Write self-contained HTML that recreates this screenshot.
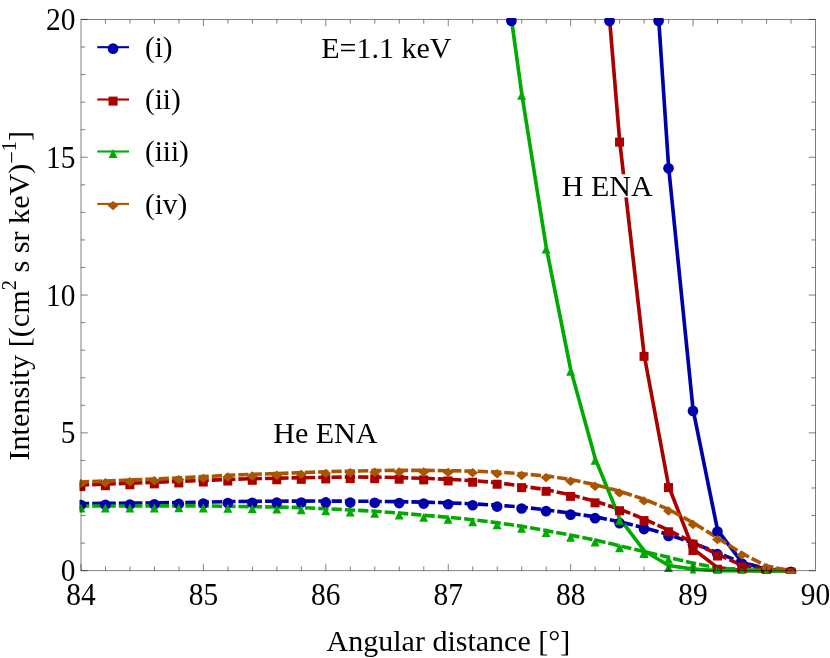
<!DOCTYPE html>
<html><head><meta charset="utf-8"><title>ENA intensity</title>
<style>
html,body{margin:0;padding:0;background:#fff;}
body{width:830px;height:658px;overflow:hidden;}
svg{display:block;will-change:transform;}
text{font-family:"Liberation Serif",serif;fill:#000;}
</style></head><body>
<svg width="830" height="658" viewBox="0 0 830 658">
<rect x="0" y="0" width="830" height="658" fill="#ffffff"/>
<defs><clipPath id="plot"><rect x="79.50" y="18.0" width="737.50" height="555.40"/></clipPath></defs>

<g clip-path="url(#plot)">
<polyline points="658.70,19.47 668.60,166.94 693.08,409.57 717.57,530.19 742.05,562.41 766.53,569.30 791.02,570.65" fill="none" stroke="#0000AA" stroke-width="3.65" stroke-linejoin="round"/>
<polyline points="81.00,503.63 105.48,503.38 129.97,503.13 154.45,502.85 178.93,502.55 203.42,502.17 227.90,501.64 252.38,501.34 276.87,501.20 301.35,501.09 325.83,501.06 350.32,501.15 374.80,501.37 399.28,501.64 423.77,502.14 448.25,502.85 472.73,503.85 497.22,505.17 521.70,507.10 546.18,509.80 570.67,513.24 595.15,516.80 619.63,521.71 644.12,527.69 668.60,534.60 693.08,543.15 717.57,552.76 742.05,562.69 766.53,568.75 791.02,570.65" fill="none" stroke="#0000AA" stroke-width="3.6" stroke-linejoin="round" stroke-dasharray="10.3 3" stroke-dashoffset="2.1"/>
<polyline points="609.61,19.47 619.63,140.51 644.12,354.75 668.60,485.99 693.08,548.91 717.57,567.65 742.05,570.65 766.53,570.65 791.02,570.65" fill="none" stroke="#AA0000" stroke-width="3.65" stroke-linejoin="round"/>
<polyline points="81.00,485.02 105.48,484.11 129.97,483.18 154.45,482.27 178.93,481.36 203.42,480.42 227.90,479.43 252.38,478.71 276.87,478.16 301.35,477.75 325.83,477.34 350.32,477.03 374.80,477.11 399.28,477.64 423.77,478.27 448.25,479.35 472.73,480.61 497.22,482.65 521.70,486.07 546.18,489.71 570.67,494.81 595.15,501.23 619.63,509.14 644.12,518.98 668.60,530.14 693.08,542.59 717.57,554.42 742.05,565.30 766.53,569.58 791.02,570.65" fill="none" stroke="#AA0000" stroke-width="3.6" stroke-linejoin="round" stroke-dasharray="10.3 3" stroke-dashoffset="2.1"/>
<polyline points="511.50,19.47 521.70,93.14 546.18,247.08 570.67,369.36 595.15,458.32 619.63,518.34 644.12,550.70 668.60,565.52 693.08,569.16 717.57,570.65 742.05,570.65 766.53,570.65 791.02,570.65" fill="none" stroke="#00AA00" stroke-width="3.65" stroke-linejoin="round"/>
<polyline points="81.00,505.97 105.48,505.97 129.97,505.94 154.45,505.89 178.93,505.83 203.42,505.89 227.90,506.27 252.38,506.66 276.87,507.04 301.35,507.65 325.83,508.75 350.32,509.97 374.80,511.23 399.28,513.05 423.77,515.28 448.25,517.21 472.73,519.67 497.22,522.70 521.70,526.34 546.18,530.61 570.67,535.15 595.15,539.98 619.63,545.74 644.12,551.58 668.60,557.34 693.08,563.13 717.57,567.92 742.05,569.58 766.53,570.65 791.02,570.65" fill="none" stroke="#00AA00" stroke-width="3.6" stroke-linejoin="round" stroke-dasharray="10.3 3" stroke-dashoffset="2.1"/>
<polyline points="81.00,481.99 105.48,480.97 129.97,479.98 154.45,478.96 178.93,477.89 203.42,476.67 227.90,475.30 252.38,474.28 276.87,473.59 301.35,472.65 325.83,471.71 350.32,471.11 374.80,470.58 399.28,470.34 423.77,470.34 448.25,470.69 472.73,471.11 497.22,472.02 521.70,473.81 546.18,475.90 570.67,479.51 595.15,484.61 619.63,491.22 644.12,499.22 668.60,509.30 693.08,522.75 717.57,537.91 742.05,553.40 766.53,566.10 791.02,570.65" fill="none" stroke="#AA5500" stroke-width="3.6" stroke-linejoin="round" stroke-dasharray="10.3 3" stroke-dashoffset="2.1"/>
<circle cx="668.50" cy="168.34" r="5.35" fill="#0000AA"/>
<circle cx="692.98" cy="410.97" r="5.35" fill="#0000AA"/>
<circle cx="717.47" cy="531.59" r="5.35" fill="#0000AA"/>
<circle cx="741.95" cy="563.81" r="5.35" fill="#0000AA"/>
<circle cx="766.43" cy="570.70" r="5.35" fill="#0000AA"/>
<circle cx="790.92" cy="572.05" r="5.35" fill="#0000AA"/>
<circle cx="80.90" cy="505.03" r="5.35" fill="#0000AA"/>
<circle cx="105.38" cy="504.78" r="5.35" fill="#0000AA"/>
<circle cx="129.87" cy="504.53" r="5.35" fill="#0000AA"/>
<circle cx="154.35" cy="504.25" r="5.35" fill="#0000AA"/>
<circle cx="178.83" cy="503.95" r="5.35" fill="#0000AA"/>
<circle cx="203.32" cy="503.57" r="5.35" fill="#0000AA"/>
<circle cx="227.80" cy="503.04" r="5.35" fill="#0000AA"/>
<circle cx="252.28" cy="502.74" r="5.35" fill="#0000AA"/>
<circle cx="276.77" cy="502.60" r="5.35" fill="#0000AA"/>
<circle cx="301.25" cy="502.49" r="5.35" fill="#0000AA"/>
<circle cx="325.73" cy="502.46" r="5.35" fill="#0000AA"/>
<circle cx="350.22" cy="502.55" r="5.35" fill="#0000AA"/>
<circle cx="374.70" cy="502.77" r="5.35" fill="#0000AA"/>
<circle cx="399.18" cy="503.04" r="5.35" fill="#0000AA"/>
<circle cx="423.67" cy="503.54" r="5.35" fill="#0000AA"/>
<circle cx="448.15" cy="504.25" r="5.35" fill="#0000AA"/>
<circle cx="472.63" cy="505.25" r="5.35" fill="#0000AA"/>
<circle cx="497.12" cy="506.57" r="5.35" fill="#0000AA"/>
<circle cx="521.60" cy="508.50" r="5.35" fill="#0000AA"/>
<circle cx="546.08" cy="511.20" r="5.35" fill="#0000AA"/>
<circle cx="570.57" cy="514.64" r="5.35" fill="#0000AA"/>
<circle cx="595.05" cy="518.20" r="5.35" fill="#0000AA"/>
<circle cx="619.53" cy="523.11" r="5.35" fill="#0000AA"/>
<circle cx="644.02" cy="529.09" r="5.35" fill="#0000AA"/>
<circle cx="668.50" cy="536.00" r="5.35" fill="#0000AA"/>
<circle cx="692.98" cy="544.55" r="5.35" fill="#0000AA"/>
<circle cx="717.47" cy="554.16" r="5.35" fill="#0000AA"/>
<circle cx="741.95" cy="564.09" r="5.35" fill="#0000AA"/>
<circle cx="766.43" cy="570.15" r="5.35" fill="#0000AA"/>
<circle cx="790.92" cy="572.05" r="5.35" fill="#0000AA"/>
<rect x="615.03" y="137.61" width="9.00" height="9.00" fill="#AA0000"/>
<rect x="639.52" y="351.85" width="9.00" height="9.00" fill="#AA0000"/>
<rect x="664.00" y="483.09" width="9.00" height="9.00" fill="#AA0000"/>
<rect x="688.48" y="546.01" width="9.00" height="9.00" fill="#AA0000"/>
<rect x="712.97" y="564.75" width="9.00" height="9.00" fill="#AA0000"/>
<rect x="737.45" y="567.75" width="9.00" height="9.00" fill="#AA0000"/>
<rect x="761.93" y="567.75" width="9.00" height="9.00" fill="#AA0000"/>
<rect x="786.42" y="567.75" width="9.00" height="9.00" fill="#AA0000"/>
<rect x="76.40" y="482.12" width="9.00" height="9.00" fill="#AA0000"/>
<rect x="100.88" y="481.21" width="9.00" height="9.00" fill="#AA0000"/>
<rect x="125.37" y="480.28" width="9.00" height="9.00" fill="#AA0000"/>
<rect x="149.85" y="479.37" width="9.00" height="9.00" fill="#AA0000"/>
<rect x="174.33" y="478.46" width="9.00" height="9.00" fill="#AA0000"/>
<rect x="198.82" y="477.52" width="9.00" height="9.00" fill="#AA0000"/>
<rect x="223.30" y="476.53" width="9.00" height="9.00" fill="#AA0000"/>
<rect x="247.78" y="475.81" width="9.00" height="9.00" fill="#AA0000"/>
<rect x="272.27" y="475.26" width="9.00" height="9.00" fill="#AA0000"/>
<rect x="296.75" y="474.85" width="9.00" height="9.00" fill="#AA0000"/>
<rect x="321.23" y="474.44" width="9.00" height="9.00" fill="#AA0000"/>
<rect x="345.72" y="474.13" width="9.00" height="9.00" fill="#AA0000"/>
<rect x="370.20" y="474.21" width="9.00" height="9.00" fill="#AA0000"/>
<rect x="394.68" y="474.74" width="9.00" height="9.00" fill="#AA0000"/>
<rect x="419.17" y="475.37" width="9.00" height="9.00" fill="#AA0000"/>
<rect x="443.65" y="476.45" width="9.00" height="9.00" fill="#AA0000"/>
<rect x="468.13" y="477.71" width="9.00" height="9.00" fill="#AA0000"/>
<rect x="492.62" y="479.75" width="9.00" height="9.00" fill="#AA0000"/>
<rect x="517.10" y="483.17" width="9.00" height="9.00" fill="#AA0000"/>
<rect x="541.58" y="486.81" width="9.00" height="9.00" fill="#AA0000"/>
<rect x="566.07" y="491.91" width="9.00" height="9.00" fill="#AA0000"/>
<rect x="590.55" y="498.33" width="9.00" height="9.00" fill="#AA0000"/>
<rect x="615.03" y="506.24" width="9.00" height="9.00" fill="#AA0000"/>
<rect x="639.52" y="516.08" width="9.00" height="9.00" fill="#AA0000"/>
<rect x="664.00" y="527.24" width="9.00" height="9.00" fill="#AA0000"/>
<rect x="688.48" y="539.69" width="9.00" height="9.00" fill="#AA0000"/>
<rect x="712.97" y="551.52" width="9.00" height="9.00" fill="#AA0000"/>
<rect x="737.45" y="562.40" width="9.00" height="9.00" fill="#AA0000"/>
<rect x="761.93" y="566.68" width="9.00" height="9.00" fill="#AA0000"/>
<rect x="786.42" y="567.75" width="9.00" height="9.00" fill="#AA0000"/>
<path d="M521.60,90.74 L526.05,99.64 L517.15,99.64 Z" fill="#00AA00"/>
<path d="M546.08,244.68 L550.53,253.58 L541.63,253.58 Z" fill="#00AA00"/>
<path d="M570.57,366.96 L575.02,375.86 L566.12,375.86 Z" fill="#00AA00"/>
<path d="M595.05,455.92 L599.50,464.82 L590.60,464.82 Z" fill="#00AA00"/>
<path d="M619.53,515.94 L623.98,524.84 L615.08,524.84 Z" fill="#00AA00"/>
<path d="M644.02,548.30 L648.47,557.20 L639.57,557.20 Z" fill="#00AA00"/>
<path d="M668.50,563.12 L672.95,572.02 L664.05,572.02 Z" fill="#00AA00"/>
<path d="M692.98,566.76 L697.43,575.66 L688.53,575.66 Z" fill="#00AA00"/>
<path d="M717.47,568.25 L721.92,577.15 L713.02,577.15 Z" fill="#00AA00"/>
<path d="M741.95,568.25 L746.40,577.15 L737.50,577.15 Z" fill="#00AA00"/>
<path d="M766.43,568.25 L770.88,577.15 L761.98,577.15 Z" fill="#00AA00"/>
<path d="M790.92,568.25 L795.37,577.15 L786.47,577.15 Z" fill="#00AA00"/>
<path d="M80.90,503.57 L85.35,512.47 L76.45,512.47 Z" fill="#00AA00"/>
<path d="M105.38,503.57 L109.83,512.47 L100.93,512.47 Z" fill="#00AA00"/>
<path d="M129.87,503.54 L134.32,512.44 L125.42,512.44 Z" fill="#00AA00"/>
<path d="M154.35,503.49 L158.80,512.39 L149.90,512.39 Z" fill="#00AA00"/>
<path d="M178.83,503.43 L183.28,512.33 L174.38,512.33 Z" fill="#00AA00"/>
<path d="M203.32,503.49 L207.77,512.39 L198.87,512.39 Z" fill="#00AA00"/>
<path d="M227.80,503.87 L232.25,512.77 L223.35,512.77 Z" fill="#00AA00"/>
<path d="M252.28,504.26 L256.73,513.16 L247.83,513.16 Z" fill="#00AA00"/>
<path d="M276.77,504.64 L281.22,513.54 L272.32,513.54 Z" fill="#00AA00"/>
<path d="M301.25,505.25 L305.70,514.15 L296.80,514.15 Z" fill="#00AA00"/>
<path d="M325.73,506.35 L330.18,515.25 L321.28,515.25 Z" fill="#00AA00"/>
<path d="M350.22,507.57 L354.67,516.47 L345.77,516.47 Z" fill="#00AA00"/>
<path d="M374.70,508.83 L379.15,517.73 L370.25,517.73 Z" fill="#00AA00"/>
<path d="M399.18,510.65 L403.63,519.55 L394.73,519.55 Z" fill="#00AA00"/>
<path d="M423.67,512.88 L428.12,521.78 L419.22,521.78 Z" fill="#00AA00"/>
<path d="M448.15,514.81 L452.60,523.71 L443.70,523.71 Z" fill="#00AA00"/>
<path d="M472.63,517.27 L477.08,526.17 L468.18,526.17 Z" fill="#00AA00"/>
<path d="M497.12,520.30 L501.57,529.20 L492.67,529.20 Z" fill="#00AA00"/>
<path d="M521.60,523.94 L526.05,532.84 L517.15,532.84 Z" fill="#00AA00"/>
<path d="M546.08,528.21 L550.53,537.11 L541.63,537.11 Z" fill="#00AA00"/>
<path d="M570.57,532.75 L575.02,541.65 L566.12,541.65 Z" fill="#00AA00"/>
<path d="M595.05,537.58 L599.50,546.48 L590.60,546.48 Z" fill="#00AA00"/>
<path d="M619.53,543.34 L623.98,552.24 L615.08,552.24 Z" fill="#00AA00"/>
<path d="M644.02,549.18 L648.47,558.08 L639.57,558.08 Z" fill="#00AA00"/>
<path d="M668.50,554.94 L672.95,563.84 L664.05,563.84 Z" fill="#00AA00"/>
<path d="M692.98,560.73 L697.43,569.63 L688.53,569.63 Z" fill="#00AA00"/>
<path d="M717.47,565.52 L721.92,574.42 L713.02,574.42 Z" fill="#00AA00"/>
<path d="M741.95,567.18 L746.40,576.08 L737.50,576.08 Z" fill="#00AA00"/>
<path d="M766.43,568.25 L770.88,577.15 L761.98,577.15 Z" fill="#00AA00"/>
<path d="M790.92,568.25 L795.37,577.15 L786.47,577.15 Z" fill="#00AA00"/>
<path d="M80.90,478.99 L86.35,483.69 L80.90,488.39 L75.45,483.69 Z" fill="#AA5500"/>
<path d="M105.38,477.97 L110.83,482.67 L105.38,487.37 L99.93,482.67 Z" fill="#AA5500"/>
<path d="M129.87,476.98 L135.32,481.68 L129.87,486.38 L124.42,481.68 Z" fill="#AA5500"/>
<path d="M154.35,475.96 L159.80,480.66 L154.35,485.36 L148.90,480.66 Z" fill="#AA5500"/>
<path d="M178.83,474.89 L184.28,479.59 L178.83,484.29 L173.38,479.59 Z" fill="#AA5500"/>
<path d="M203.32,473.67 L208.77,478.37 L203.32,483.07 L197.87,478.37 Z" fill="#AA5500"/>
<path d="M227.80,472.30 L233.25,477.00 L227.80,481.70 L222.35,477.00 Z" fill="#AA5500"/>
<path d="M252.28,471.28 L257.73,475.98 L252.28,480.68 L246.83,475.98 Z" fill="#AA5500"/>
<path d="M276.77,470.59 L282.22,475.29 L276.77,479.99 L271.32,475.29 Z" fill="#AA5500"/>
<path d="M301.25,469.65 L306.70,474.35 L301.25,479.05 L295.80,474.35 Z" fill="#AA5500"/>
<path d="M325.73,468.71 L331.18,473.41 L325.73,478.11 L320.28,473.41 Z" fill="#AA5500"/>
<path d="M350.22,468.11 L355.67,472.81 L350.22,477.51 L344.77,472.81 Z" fill="#AA5500"/>
<path d="M374.70,467.58 L380.15,472.28 L374.70,476.98 L369.25,472.28 Z" fill="#AA5500"/>
<path d="M399.18,467.34 L404.63,472.04 L399.18,476.74 L393.73,472.04 Z" fill="#AA5500"/>
<path d="M423.67,467.34 L429.12,472.04 L423.67,476.74 L418.22,472.04 Z" fill="#AA5500"/>
<path d="M448.15,467.69 L453.60,472.39 L448.15,477.09 L442.70,472.39 Z" fill="#AA5500"/>
<path d="M472.63,468.11 L478.08,472.81 L472.63,477.51 L467.18,472.81 Z" fill="#AA5500"/>
<path d="M497.12,469.02 L502.57,473.72 L497.12,478.42 L491.67,473.72 Z" fill="#AA5500"/>
<path d="M521.60,470.81 L527.05,475.51 L521.60,480.21 L516.15,475.51 Z" fill="#AA5500"/>
<path d="M546.08,472.90 L551.53,477.60 L546.08,482.30 L540.63,477.60 Z" fill="#AA5500"/>
<path d="M570.57,476.51 L576.02,481.21 L570.57,485.91 L565.12,481.21 Z" fill="#AA5500"/>
<path d="M595.05,481.61 L600.50,486.31 L595.05,491.01 L589.60,486.31 Z" fill="#AA5500"/>
<path d="M619.53,488.22 L624.98,492.92 L619.53,497.62 L614.08,492.92 Z" fill="#AA5500"/>
<path d="M644.02,496.22 L649.47,500.92 L644.02,505.62 L638.57,500.92 Z" fill="#AA5500"/>
<path d="M668.50,506.30 L673.95,511.00 L668.50,515.70 L663.05,511.00 Z" fill="#AA5500"/>
<path d="M692.98,519.75 L698.43,524.45 L692.98,529.15 L687.53,524.45 Z" fill="#AA5500"/>
<path d="M717.47,534.91 L722.92,539.61 L717.47,544.31 L712.02,539.61 Z" fill="#AA5500"/>
<path d="M741.95,550.40 L747.40,555.10 L741.95,559.80 L736.50,555.10 Z" fill="#AA5500"/>
<path d="M766.43,563.10 L771.88,567.80 L766.43,572.50 L760.98,567.80 Z" fill="#AA5500"/>
<path d="M790.92,567.65 L796.37,572.35 L790.92,577.05 L785.47,572.35 Z" fill="#AA5500"/>
<circle cx="511.40" cy="20.87" r="5.35" fill="#0000AA"/>
<circle cx="609.51" cy="20.87" r="5.35" fill="#0000AA"/>
<circle cx="658.60" cy="20.87" r="5.35" fill="#0000AA"/>
</g>
<g stroke="#000000" stroke-opacity="0.5" stroke-width="1" fill="none">
<rect x="81.00" y="19.47" width="734.50" height="551.18"/>
<line x1="81.00" y1="570.65" x2="81.00" y2="563.85"/>
<line x1="105.48" y1="570.65" x2="105.48" y2="566.45"/>
<line x1="105.48" y1="19.47" x2="105.48" y2="23.67"/>
<line x1="129.97" y1="570.65" x2="129.97" y2="566.45"/>
<line x1="129.97" y1="19.47" x2="129.97" y2="23.67"/>
<line x1="154.45" y1="570.65" x2="154.45" y2="566.45"/>
<line x1="154.45" y1="19.47" x2="154.45" y2="23.67"/>
<line x1="178.93" y1="570.65" x2="178.93" y2="566.45"/>
<line x1="178.93" y1="19.47" x2="178.93" y2="23.67"/>
<line x1="203.42" y1="570.65" x2="203.42" y2="563.85"/>
<line x1="203.42" y1="19.47" x2="203.42" y2="26.27"/>
<line x1="227.90" y1="570.65" x2="227.90" y2="566.45"/>
<line x1="227.90" y1="19.47" x2="227.90" y2="23.67"/>
<line x1="252.38" y1="570.65" x2="252.38" y2="566.45"/>
<line x1="252.38" y1="19.47" x2="252.38" y2="23.67"/>
<line x1="276.87" y1="570.65" x2="276.87" y2="566.45"/>
<line x1="276.87" y1="19.47" x2="276.87" y2="23.67"/>
<line x1="301.35" y1="570.65" x2="301.35" y2="566.45"/>
<line x1="301.35" y1="19.47" x2="301.35" y2="23.67"/>
<line x1="325.83" y1="570.65" x2="325.83" y2="563.85"/>
<line x1="325.83" y1="19.47" x2="325.83" y2="26.27"/>
<line x1="350.32" y1="570.65" x2="350.32" y2="566.45"/>
<line x1="350.32" y1="19.47" x2="350.32" y2="23.67"/>
<line x1="374.80" y1="570.65" x2="374.80" y2="566.45"/>
<line x1="374.80" y1="19.47" x2="374.80" y2="23.67"/>
<line x1="399.28" y1="570.65" x2="399.28" y2="566.45"/>
<line x1="399.28" y1="19.47" x2="399.28" y2="23.67"/>
<line x1="423.77" y1="570.65" x2="423.77" y2="566.45"/>
<line x1="423.77" y1="19.47" x2="423.77" y2="23.67"/>
<line x1="448.25" y1="570.65" x2="448.25" y2="563.85"/>
<line x1="448.25" y1="19.47" x2="448.25" y2="26.27"/>
<line x1="472.73" y1="570.65" x2="472.73" y2="566.45"/>
<line x1="472.73" y1="19.47" x2="472.73" y2="23.67"/>
<line x1="497.22" y1="570.65" x2="497.22" y2="566.45"/>
<line x1="497.22" y1="19.47" x2="497.22" y2="23.67"/>
<line x1="521.70" y1="570.65" x2="521.70" y2="566.45"/>
<line x1="521.70" y1="19.47" x2="521.70" y2="23.67"/>
<line x1="546.18" y1="570.65" x2="546.18" y2="566.45"/>
<line x1="546.18" y1="19.47" x2="546.18" y2="23.67"/>
<line x1="570.67" y1="570.65" x2="570.67" y2="563.85"/>
<line x1="570.67" y1="19.47" x2="570.67" y2="26.27"/>
<line x1="595.15" y1="570.65" x2="595.15" y2="566.45"/>
<line x1="595.15" y1="19.47" x2="595.15" y2="23.67"/>
<line x1="619.63" y1="570.65" x2="619.63" y2="566.45"/>
<line x1="619.63" y1="19.47" x2="619.63" y2="23.67"/>
<line x1="644.12" y1="570.65" x2="644.12" y2="566.45"/>
<line x1="644.12" y1="19.47" x2="644.12" y2="23.67"/>
<line x1="668.60" y1="570.65" x2="668.60" y2="566.45"/>
<line x1="668.60" y1="19.47" x2="668.60" y2="23.67"/>
<line x1="693.08" y1="570.65" x2="693.08" y2="563.85"/>
<line x1="693.08" y1="19.47" x2="693.08" y2="26.27"/>
<line x1="717.57" y1="570.65" x2="717.57" y2="566.45"/>
<line x1="717.57" y1="19.47" x2="717.57" y2="23.67"/>
<line x1="742.05" y1="570.65" x2="742.05" y2="566.45"/>
<line x1="742.05" y1="19.47" x2="742.05" y2="23.67"/>
<line x1="766.53" y1="570.65" x2="766.53" y2="566.45"/>
<line x1="766.53" y1="19.47" x2="766.53" y2="23.67"/>
<line x1="791.02" y1="570.65" x2="791.02" y2="566.45"/>
<line x1="791.02" y1="19.47" x2="791.02" y2="23.67"/>
<line x1="81.00" y1="570.65" x2="87.80" y2="570.65"/>
<line x1="815.50" y1="570.65" x2="808.70" y2="570.65"/>
<line x1="81.00" y1="543.09" x2="85.20" y2="543.09"/>
<line x1="815.50" y1="543.09" x2="811.30" y2="543.09"/>
<line x1="81.00" y1="515.53" x2="85.20" y2="515.53"/>
<line x1="815.50" y1="515.53" x2="811.30" y2="515.53"/>
<line x1="81.00" y1="487.97" x2="85.20" y2="487.97"/>
<line x1="815.50" y1="487.97" x2="811.30" y2="487.97"/>
<line x1="81.00" y1="460.41" x2="85.20" y2="460.41"/>
<line x1="815.50" y1="460.41" x2="811.30" y2="460.41"/>
<line x1="81.00" y1="432.86" x2="87.80" y2="432.86"/>
<line x1="815.50" y1="432.86" x2="808.70" y2="432.86"/>
<line x1="81.00" y1="405.30" x2="85.20" y2="405.30"/>
<line x1="815.50" y1="405.30" x2="811.30" y2="405.30"/>
<line x1="81.00" y1="377.74" x2="85.20" y2="377.74"/>
<line x1="815.50" y1="377.74" x2="811.30" y2="377.74"/>
<line x1="81.00" y1="350.18" x2="85.20" y2="350.18"/>
<line x1="815.50" y1="350.18" x2="811.30" y2="350.18"/>
<line x1="81.00" y1="322.62" x2="85.20" y2="322.62"/>
<line x1="815.50" y1="322.62" x2="811.30" y2="322.62"/>
<line x1="81.00" y1="295.06" x2="87.80" y2="295.06"/>
<line x1="815.50" y1="295.06" x2="808.70" y2="295.06"/>
<line x1="81.00" y1="267.50" x2="85.20" y2="267.50"/>
<line x1="815.50" y1="267.50" x2="811.30" y2="267.50"/>
<line x1="81.00" y1="239.94" x2="85.20" y2="239.94"/>
<line x1="815.50" y1="239.94" x2="811.30" y2="239.94"/>
<line x1="81.00" y1="212.38" x2="85.20" y2="212.38"/>
<line x1="815.50" y1="212.38" x2="811.30" y2="212.38"/>
<line x1="81.00" y1="184.82" x2="85.20" y2="184.82"/>
<line x1="815.50" y1="184.82" x2="811.30" y2="184.82"/>
<line x1="81.00" y1="157.26" x2="87.80" y2="157.26"/>
<line x1="815.50" y1="157.26" x2="808.70" y2="157.26"/>
<line x1="81.00" y1="129.71" x2="85.20" y2="129.71"/>
<line x1="815.50" y1="129.71" x2="811.30" y2="129.71"/>
<line x1="81.00" y1="102.15" x2="85.20" y2="102.15"/>
<line x1="815.50" y1="102.15" x2="811.30" y2="102.15"/>
<line x1="81.00" y1="74.59" x2="85.20" y2="74.59"/>
<line x1="815.50" y1="74.59" x2="811.30" y2="74.59"/>
<line x1="81.00" y1="47.03" x2="85.20" y2="47.03"/>
<line x1="815.50" y1="47.03" x2="811.30" y2="47.03"/>
<line x1="81.00" y1="19.47" x2="87.80" y2="19.47"/>
<line x1="815.50" y1="19.47" x2="808.70" y2="19.47"/>
</g>
<g font-size="31">
<text transform="translate(81.00,605.2) scale(0.95,1)" text-anchor="middle">84</text>
<text transform="translate(203.42,605.2) scale(0.95,1)" text-anchor="middle">85</text>
<text transform="translate(325.83,605.2) scale(0.95,1)" text-anchor="middle">86</text>
<text transform="translate(448.25,605.2) scale(0.95,1)" text-anchor="middle">87</text>
<text transform="translate(570.67,605.2) scale(0.95,1)" text-anchor="middle">88</text>
<text transform="translate(693.08,605.2) scale(0.95,1)" text-anchor="middle">89</text>
<text transform="translate(815.50,605.2) scale(0.95,1)" text-anchor="middle">90</text>
<text transform="translate(75.5,581.25) scale(0.95,1)" text-anchor="end">0</text>
<text transform="translate(75.5,443.46) scale(0.95,1)" text-anchor="end">5</text>
<text transform="translate(75.5,305.66) scale(0.95,1)" text-anchor="end">10</text>
<text transform="translate(75.5,167.86) scale(0.95,1)" text-anchor="end">15</text>
<text transform="translate(75.5,30.07) scale(0.95,1)" text-anchor="end">20</text>
</g>
<text x="448.4" y="650.5" font-size="30" text-anchor="middle">Angular distance [°]</text>
<text transform="translate(29.2,295.7) rotate(-90)" font-size="30.2" text-anchor="middle">Intensity [(cm<tspan font-size="20.5" dy="-13.4">2</tspan><tspan dy="13.4"> s sr keV)</tspan><tspan font-size="22" dy="-10.6">−</tspan><tspan font-size="20.5" dy="-2.8">1</tspan><tspan dy="13.4">]</tspan></text>
<text x="386.4" y="58" font-size="30" text-anchor="middle">E=1.1 keV</text>
<rect x="561.5" y="174.3" width="91.5" height="23.1" fill="#ffffff"/>
<text x="607.25" y="195.8" font-size="30" text-anchor="middle">H ENA</text>
<text x="325.3" y="443.4" font-size="30" text-anchor="middle">He ENA</text>
<line x1="97.3" y1="47.20" x2="129.0" y2="47.20" stroke="#0000AA" stroke-width="2.1"/>
<circle cx="113.05" cy="48.60" r="5.35" fill="#0000AA"/>
<text x="144.9" y="57.00" font-size="29.3">(i)</text>
<line x1="97.3" y1="99.50" x2="129.0" y2="99.50" stroke="#AA0000" stroke-width="2.1"/>
<rect x="108.55" y="96.60" width="9.00" height="9.00" fill="#AA0000"/>
<text x="144.9" y="109.30" font-size="29.3">(ii)</text>
<line x1="97.3" y1="151.50" x2="129.0" y2="151.50" stroke="#00AA00" stroke-width="2.1"/>
<path d="M113.05,149.10 L117.50,158.00 L108.60,158.00 Z" fill="#00AA00"/>
<text x="144.9" y="161.30" font-size="29.3">(iii)</text>
<line x1="97.3" y1="203.90" x2="129.0" y2="203.90" stroke="#AA5500" stroke-width="2.1"/>
<path d="M113.05,200.90 L118.50,205.60 L113.05,210.30 L107.60,205.60 Z" fill="#AA5500"/>
<text x="144.9" y="213.70" font-size="29.3">(iv)</text>
</svg></body></html>
